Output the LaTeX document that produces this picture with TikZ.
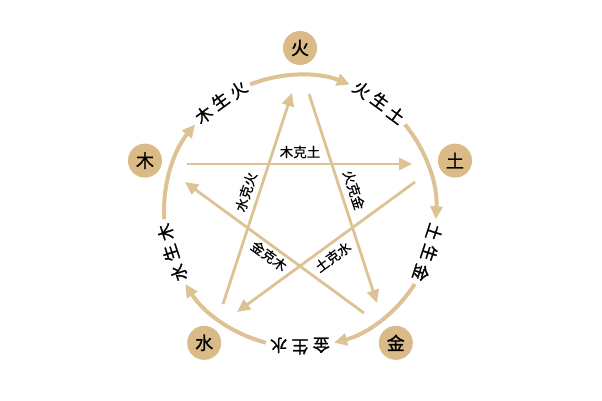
\documentclass[tikz,border=0pt]{standalone}
\usepackage{fontspec}
\newfontfamily\cjk[FakeBold=0.5]{Noto Sans CJK SC}
\newfontfamily\cjkb[FakeBold=1.2]{Noto Sans CJK SC}
\usetikzlibrary{arrows.meta,calc}
\definecolor{elemtan}{RGB}{218,186,135}
\definecolor{tanline}{RGB}{221,194,148}
\begin{document}
\begin{tikzpicture}[x=1pt,y=1pt,
  elem/.style={circle, fill=elemtan, minimum size=34pt, inner sep=0pt, font=\cjkb\fontsize{18}{18}\selectfont},
  arcline/.style={draw=tanline, line width=4pt, -{Triangle[length=13pt,width=12pt]}},
  starline/.style={draw=tanline, line width=2.8pt, -{Triangle[length=13pt,width=12pt]}},
  shengch/.style={font=\cjkb\fontsize{17}{17}\selectfont, inner sep=0pt},
  kelbl/.style={font=\cjk\fontsize{13.5}{13.5}\selectfont, inner sep=0pt}]
\useasboundingbox[fill=white] (0,0) rectangle (602,401);
\coordinate (C) at (300,190);
% elements
\node[elem] (huo) at ($(C)+(90:163)$) {火};
\node[elem] (tu) at ($(C)+(18:163)$) {土};
\node[elem] (jin) at ($(C)+(-54:163)$) {金};
\node[elem] (shui) at ($(C)+(-126:163)$) {水};
\node[elem] (mu) at ($(C)+(162:163)$) {木};
% generating cycle arcs
\foreach \t in {90,18,-54,-126,162} {
  \draw[arcline] ($(C)+(\t+21.5:136)$) arc[start angle=\t+21.5, end angle=\t-21.5, radius=136];
}
% generating labels
\foreach \p/\a/\b/\c/\nm in {126/木/生/火/ms, 54/火/生/土/hs, -18/土/生/金/ts, -90/金/生/水/js, 198/水/生/木/ss} {
  \node[shengch, rotate=\p-90] (\nm a) at ($(C)+(\p+9:136)$) {\a};
  \node[shengch, rotate=\p-90] (\nm b) at ($(C)+(\p:136)$) {\b};
  \node[shengch, rotate=\p-90] (\nm c) at ($(C)+(\p-9:136)$) {\c};
}
% controlling star
\coordinate (muS) at (187,237);  \coordinate (tuT) at (412,237);
\coordinate (tuS) at (415,219);  \coordinate (shuiT) at (237,89);
\coordinate (jinS) at (364,88);  \coordinate (muT) at (185,219);
\coordinate (shuiS) at (223,97); \coordinate (huoT) at (292,308);
\coordinate (huoS) at (309,307); \coordinate (jinT) at (377,98);
\draw[starline] (muS) -- (tuT);
\draw[starline] (tuS) -- (shuiT);
\draw[starline] (jinS) -- (muT);
\draw[starline] (shuiS) -- (huoT);
\draw[starline] (huoS) -- (jinT);
\node[kelbl] (k1) at (300,249) {木克土};
\node[kelbl, rotate=72] (k2) at (246,209) {水克火};
\node[kelbl, rotate=-72] (k3) at (354,211) {火克金};
\node[kelbl, rotate=-36] (k4) at (269,145) {金克木};
\node[kelbl, rotate=36] (k5) at (333,144) {土克水};
\end{tikzpicture}
\end{document}
